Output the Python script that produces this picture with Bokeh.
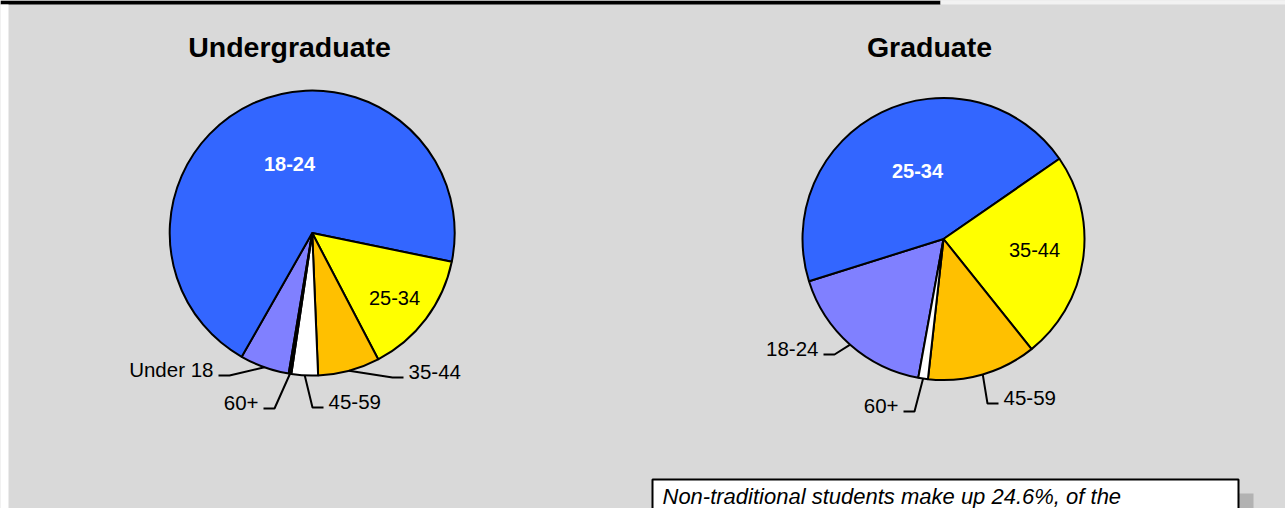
import numpy as np
from bokeh.plotting import figure
from bokeh.models import Range1d, ColumnDataSource
from bokeh.core.properties import value
from bokeh.embed import file_html
from bokeh.resources import INLINE

# ---------------- data ----------------
titles = ["Undergraduate", "Graduate"]
ug_categories = ["Under 18", "18-24", "25-34", "35-44", "45-59", "60+"]
ug_values = [5.6, 70.0, 14.1, 7.0, 3.0, 0.3]
gr_categories = ["18-24", "25-34", "35-44", "45-59", "60+"]
gr_values = [17.3, 45.2, 23.9, 12.5, 1.1]
note_text = "Non-traditional students make up 24.6%, of the"

# ---------------- styles / layout ----------------
ug_colors = ["#8080FF", "#3366FF", "#FFFF00", "#FFC000", "#FFFFFF", "#000000"]
gr_colors = ["#8080FF", "#3366FF", "#FFFF00", "#FFC000", "#FFFFFF"]
BG = "#d9d9d9"
FONT = value("Liberation Sans")

W, H = 1285, 508
# data coordinates equal picture pixel coordinates (y negated)
p = figure(width=W, height=H, x_range=Range1d(0, W), y_range=Range1d(-H, 0),
           output_backend="svg", toolbar_location=None, min_border=0,
           x_axis_type=None, y_axis_type=None)
p.grid.visible = False
p.outline_line_color = None
p.background_fill_color = BG
p.border_fill_color = BG

# frame strips
p.quad(left=[0], right=[940], top=[0], bottom=[-4], fill_color="black", line_color=None)
p.quad(left=[940], right=[W], top=[0], bottom=[-4], fill_color="#f2f2f2", line_color=None)
p.quad(left=[0], right=[8], top=[-4], bottom=[-H], fill_color="white", line_color=None)


def draw_pie(cx, cy, r, vals, colors, start_deg):
    vals = np.asarray(vals, dtype=float)
    frac = vals / vals.sum()
    cum = np.concatenate([[0.0], np.cumsum(frac)]) * 2 * np.pi
    s0 = np.deg2rad(start_deg)
    src = ColumnDataSource(dict(start=s0 - cum[1:], end=s0 - cum[:-1], color=list(colors)))
    p.wedge(x=cx, y=-cy, radius=r, start_angle="start", end_angle="end",
            fill_color="color", line_color="black", line_width=2, source=src)
    return s0 - (cum[:-1] + cum[1:]) / 2


def inside_labels(items):
    for txt, x, y, bold, color in items:
        p.text(x=[x], y=[-y], text=[txt], text_font=FONT, text_font_size="20px",
               text_font_style="bold" if bold else "normal", text_color=color,
               text_align="center", text_baseline="middle")


def outside_labels(cx, cy, r, cats, mids, items):
    for txt, tx, ty, side in items:
        m = mids[cats.index(txt)]
        sx, sy = cx + r * np.cos(m), cy - r * np.sin(m)
        d = -1 if side == "right" else 1
        ex, ey = tx - d * 16, ty + 6
        fx = tx - d * 5
        p.line(x=[sx, ex, fx], y=[-sy, -ey, -ey], line_color="black", line_width=2)
        p.text(x=[tx], y=[-ty], text=[txt], text_font=FONT, text_font_size="20.5px",
               text_color="black", text_align=side, text_baseline="middle")


# Undergraduate
ucx, ucy, ur = 311.7, 232.5, 142.5
ug_mids = draw_pie(ucx, ucy, ur, ug_values, ug_colors, -99.5)
inside_labels([("18-24", 289, 163, True, "white"), ("25-34", 394, 297, False, "black")])
outside_labels(ucx, ucy, ur, ug_categories, ug_mids,
               [("Under 18", 213, 369, "right"), ("35-44", 408, 371, "left"),
                ("60+", 258, 402, "right"), ("45-59", 328, 401, "left")])

# Graduate
gcx, gcy, gr_r = 943.0, 238.5, 141.0
gr_mids = draw_pie(gcx, gcy, gr_r, gr_values, gr_colors, -100.3)
inside_labels([("25-34", 917, 170, True, "white"), ("35-44", 1034, 249, False, "black")])
outside_labels(gcx, gcy, gr_r, gr_categories, gr_mids,
               [("18-24", 818, 348, "right"), ("60+", 898, 405, "right"),
                ("45-59", 1003, 397, "left")])

# titles
p.text(x=[289, 929], y=[-46, -46], text=titles, text_font=FONT, text_font_size="28.5px",
       text_font_style="bold", text_color="black", text_align="center", text_baseline="middle")

# note box with shadow
p.quad(left=[667], right=[1253], top=[-493], bottom=[-540], fill_color="#b2b2b2", line_color=None)
p.quad(left=[652], right=[1238], top=[-479], bottom=[-530], fill_color="white",
       line_color="black", line_width=2)
p.text(x=[662], y=[-496], text=[note_text], text_font=FONT, text_font_size="22px",
       text_font_style="italic", text_color="black", text_align="left", text_baseline="middle")

open("out.html", "w").write(file_html(p, INLINE))
